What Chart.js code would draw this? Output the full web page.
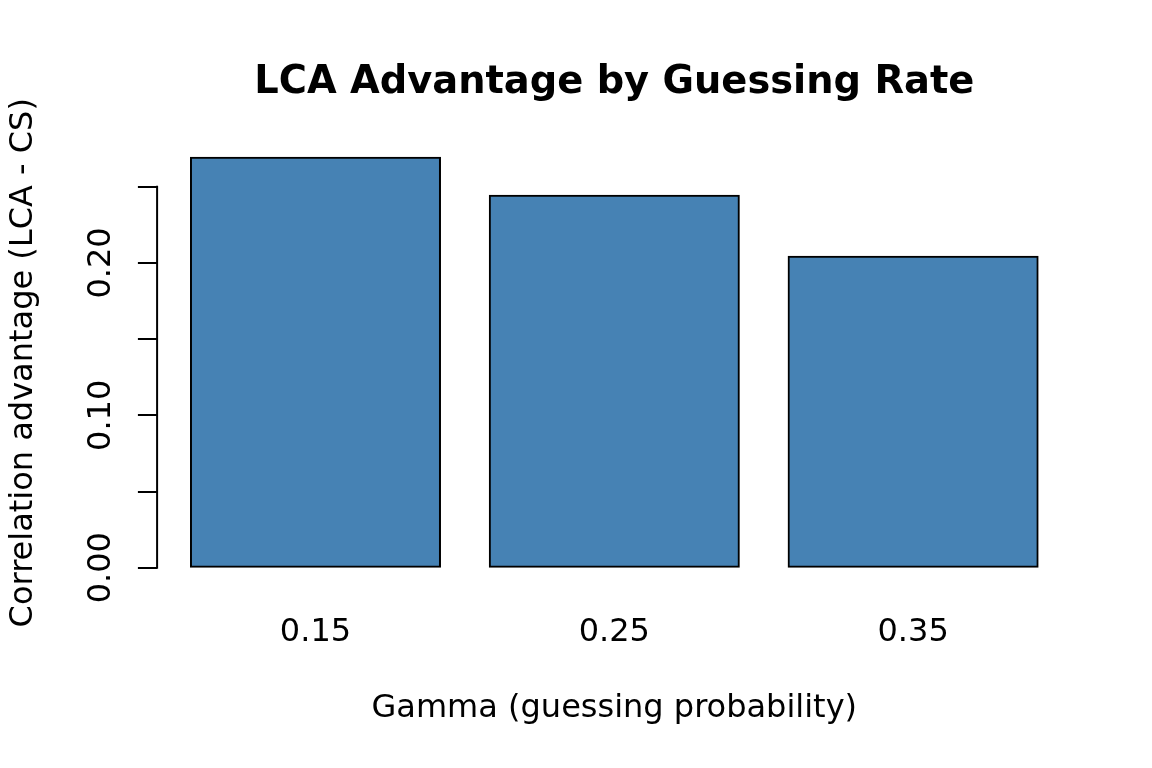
<!DOCTYPE html>
<html>
<head>
<meta charset="utf-8">
<script src="https://cdn.jsdelivr.net/npm/chart.js@4.4.1/dist/chart.umd.min.js"></script>
<style>
  html, body { margin: 0; padding: 0; background: #ffffff; }
  canvas { display: block; }
</style>
</head>
<body>
<canvas id="c" width="1152" height="768"></canvas>
<script>
// ---- data ----
const categories = ['0.15', '0.25', '0.35'];
const advantage = [0.269, 0.244, 0.204];
const yTickValues = [0, 0.05, 0.10, 0.15, 0.20, 0.25];
const yTickLabels = ['0.00', '', '0.10', '', '0.20', ''];
const chartTitle = 'LCA Advantage by Guessing Rate';
const xTitle = 'Gamma (guessing probability)';
const yTitle = 'Correlation advantage (LCA - CS)';

// R barplot geometry (width 1, space 0.2)
const barW = 1, space = 0.2;
const centers = categories.map((_, i) => space + barW / 2 + i * (barW + space));
const xLo = space, xHi = centers[centers.length - 1] + barW / 2;
const xPad = 0.04 * (xHi - xLo);
const yMaxV = Math.max(...advantage);
const yPad = 0.04 * yMaxV;

const FONT = 'DejaVu Sans';

const axisLinePlugin = {
  id: 'axisLine',
  afterDraw(chart) {
    const y = chart.scales.y;
    const ctx = chart.ctx;
    const x = y.right;
    ctx.save();
    ctx.strokeStyle = '#000';
    ctx.lineWidth = 2;
    ctx.lineCap = 'square';
    ctx.beginPath();
    ctx.moveTo(x, y.getPixelForValue(yTickValues[0]));
    ctx.lineTo(x, y.getPixelForValue(yTickValues[yTickValues.length - 1]));
    ctx.stroke();
    ctx.restore();
  }
};

new Chart(document.getElementById('c'), {
  type: 'bar',
  data: {
    datasets: [{
      data: categories.map((c, i) => ({ x: centers[i], y: advantage[i] })),
      backgroundColor: '#4682B4',
      borderColor: '#000000',
      borderWidth: 2,
      borderSkipped: false,
      inflateAmount: 1,
      categoryPercentage: 1,
      barPercentage: barW / (barW + space)
    }]
  },
  options: {
    responsive: false,
    devicePixelRatio: 1,
    animation: false,
    layout: { padding: { left: 0, right: 80.5, top: 0, bottom: 0 } },
    plugins: {
      legend: { display: false },
      tooltip: { enabled: false },
      title: {
        display: true,
        fullSize: false,
        text: chartTitle,
        color: '#000',
        font: { family: FONT, size: 38.4, weight: 'bold', lineHeight: 1.2 },
        padding: { top: 60, bottom: 35.3 }
      }
    },
    scales: {
      x: {
        type: 'linear',
        offset: false,
        min: xLo - xPad,
        max: xHi + xPad,
        grid: { display: false },
        border: { display: false },
        afterBuildTicks(scale) { scale.ticks = centers.map(v => ({ value: v })); },
        afterFit(scale) { scale.height = 183.9; },
        ticks: {
          autoSkip: false,
          maxRotation: 0,
          minRotation: 0,
          padding: 21.8,
          color: '#000',
          font: { family: FONT, size: 32 },
          callback(value, index) { return categories[index]; }
        },
        title: {
          display: true,
          text: xTitle,
          color: '#000',
          font: { family: FONT, size: 32, lineHeight: 1.2 },
          padding: { top: 0, bottom: 40.5 }
        }
      },
      y: {
        type: 'linear',
        min: -yPad,
        max: yMaxV + yPad,
        afterBuildTicks(scale) { scale.ticks = yTickValues.map(v => ({ value: v })); },
        afterFit(scale) { scale.width = 157.1; },
        border: { display: false },
        grid: {
          display: true,
          drawOnChartArea: false,
          drawTicks: true,
          tickLength: 19.2,
          tickWidth: 2,
          tickColor: '#000',
          color: '#000',
          lineWidth: 2
        },
        ticks: {
          autoSkip: false,
          minRotation: 90,
          maxRotation: 90,
          crossAlign: 'center',
          padding: 1,
          color: '#000',
          font: { family: FONT, size: 32 },
          callback(value, index) { return yTickLabels[index]; }
        },
        title: {
          display: true,
          text: yTitle,
          color: '#000',
          font: { family: FONT, size: 32, lineHeight: 1.2 },
          padding: { top: 4.7, bottom: 0 }
        }
      }
    }
  },
  plugins: [axisLinePlugin]
});
</script>
</body>
</html>
